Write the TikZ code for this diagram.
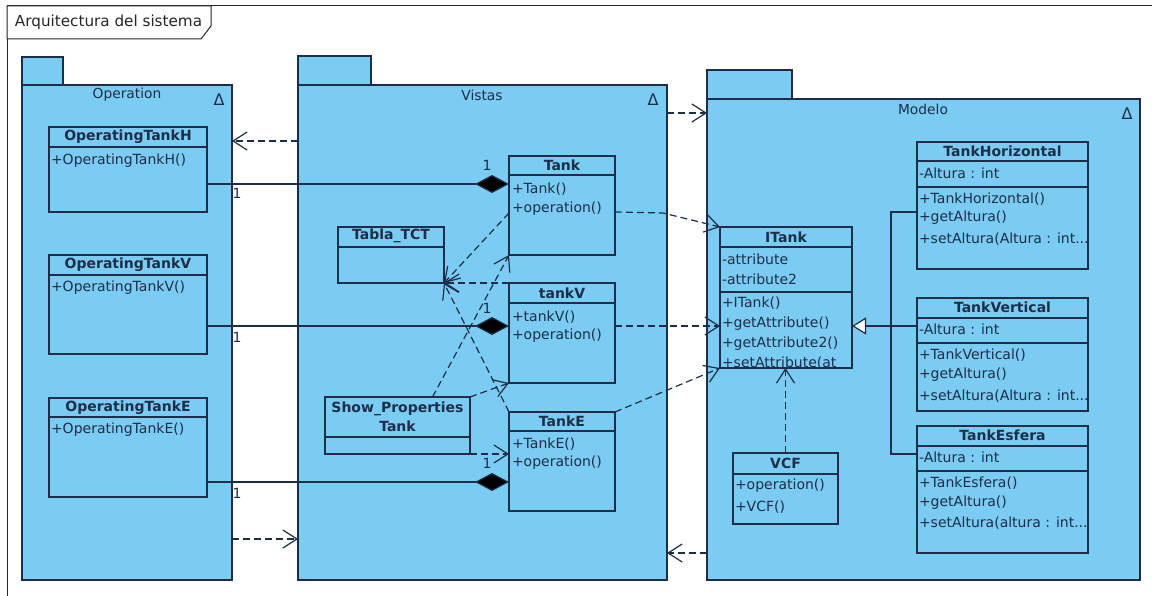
\documentclass[tikz,border=0pt]{standalone}
\usepackage{fontspec}
\setmainfont{DejaVu Sans}
\usetikzlibrary{arrows.meta}
\definecolor{pkgblue}{RGB}{122,204,242}
\definecolor{ink}{RGB}{30,45,72}

% horizontal compartment line inside a class box, #2 pt below its top
\newcommand\umldiv[2]{\draw[edge] ([yshift=-#2pt]#1.north west) -- ([yshift=-#2pt]#1.north east);}

\begin{document}
\begin{tikzpicture}[x=1pt,y=-1pt,
  every node/.style={inner sep=0pt, outer sep=0pt},
  edge/.style={draw=ink, line width=1.2pt},
  frame/.style={draw=black!85, line width=1pt},
  pkg/.style={draw=ink, fill=pkgblue, line width=1.3pt, anchor=north west},
  pkgtab/.style={draw=ink, fill=pkgblue, line width=1.3pt},
  cbox/.style={draw=ink, fill=pkgblue, line width=1.3pt, anchor=north west},
  cname/.style={font=\fontsize{14}{16}\selectfont\bfseries, text=ink, align=center},
  member/.style={font=\fontsize{14}{16}\selectfont, text=ink, anchor=west},
  pname/.style={font=\fontsize{13.8}{15}\selectfont, text=ink},
  delta/.style={font=\fontsize{16}{18}\selectfont, text=ink},
  mult/.style={font=\fontsize{14}{16}\selectfont, text=ink},
  dep/.style={draw=ink, line width=1.2pt, dash pattern=on 7pt off 4pt,
    -{Straight Barb[length=14pt,width=18pt]}},
  comp/.style={draw=ink, line width=1.2pt, -{Diamond[length=34pt,width=18pt,fill=black]}},
  gen/.style={draw=ink, line width=1.2pt, -{Triangle[length=14pt,width=17pt,fill=white]}},
]
\useasboundingbox (0,0) rectangle (1152,596);
\fill[white] (0,0) rectangle (1152,596);

% ---------- outer frame ----------
\draw[frame] (7,600) -- (7,6) -- (1160,6);
\draw[frame, fill=white] (7,6) -- (211,6) -- (211,26) -- (201,39) -- (7,39) -- cycle;
\node[font=\fontsize{15.2}{17}\selectfont, text=black!85, anchor=west] (frametitle) at (15,22) {Arquitectura del sistema};

% ---------- packages ----------
\draw[pkgtab] (22,57) rectangle (63,85);
\node[pkg, minimum width=210pt, minimum height=495pt] (operation) at (22,85) {};
\draw[pkgtab] (298,56) rectangle (371,85);
\node[pkg, minimum width=369pt, minimum height=495pt] (vistas) at (298,85) {};
\draw[pkgtab] (707,70) rectangle (792,99);
\node[pkg, minimum width=433pt, minimum height=481pt] (modelo) at (707,99) {};

\node[pname] (operationname) at (127,95) {Operation};
\node[pname] (vistasname) at (482,95) {Vistas};
\node[pname] (modeloname) at (923,109) {Modelo};
\node[delta] (operationdelta) at (219,100) {Δ};
\node[delta] (vistasdelta) at (653,100) {Δ};
\node[delta] (modelodelta) at (1127,114) {Δ};

% ---------- Operation classes ----------
\node[cbox, minimum width=158pt, minimum height=85pt] (opH) at (49,127) {};
\umldiv{opH}{20}
\node[cname] (opHname) at (128,137) {OperatingTankH};
\node[member] (opHm1) at (51,161) {+OperatingTankH()};

\node[cbox, minimum width=158pt, minimum height=99pt] (opV) at (49,255) {};
\umldiv{opV}{20}
\node[cname] (opVname) at (128,265) {OperatingTankV};
\node[member] (opVm1) at (51,288) {+OperatingTankV()};

\node[cbox, minimum width=158pt, minimum height=99pt] (opE) at (49,398) {};
\umldiv{opE}{19}
\node[cname] (opEname) at (128,408) {OperatingTankE};
\node[member] (opEm1) at (51,430) {+OperatingTankE()};

% ---------- Vistas classes ----------
\node[cbox, minimum width=106pt, minimum height=99pt] (tank) at (509,156) {};
\umldiv{tank}{19}
\node[cname] (tankname) at (562,165) {Tank};
\node[member] (tankm1) at (512,189) {+Tank()};
\node[member] (tankm2) at (512,209) {+operation()};

\node[cbox, minimum width=106pt, minimum height=56pt] (tabla) at (338,227) {};
\umldiv{tabla}{20}
\node[cname] (tablaname) at (391,236) {Tabla\_TCT};

\node[cbox, minimum width=106pt, minimum height=100pt] (tankV) at (509,283) {};
\umldiv{tankV}{20}
\node[cname] (tankVname) at (562,293) {tankV};
\node[member] (tankVm1) at (512,317) {+tankV()};
\node[member] (tankVm2) at (512,336) {+operation()};

\node[cbox, minimum width=106pt, minimum height=99pt] (tankE) at (509,412) {};
\umldiv{tankE}{19}
\node[cname] (tankEname) at (562,421) {TankE};
\node[member] (tankEm1) at (512,444) {+TankE()};
\node[member] (tankEm2) at (512,463) {+operation()};

\node[cbox, minimum width=145pt, minimum height=57pt] (show) at (325,397) {};
\umldiv{show}{40}
\node[cname, font=\fontsize{14}{19}\selectfont\bfseries] (showname) at (397.5,417) {Show\_Properties\\Tank};

% ---------- Modelo classes ----------
\node[cbox, minimum width=132pt, minimum height=141pt] (itank) at (720,227) {};
\umldiv{itank}{20}
\umldiv{itank}{65}
\node[cname] (itankname) at (786,237) {ITank};
\node[member] (itanka1) at (722,259) {-attribute};
\node[member] (itanka2) at (722,279) {-attribute2};
\node[member] (itankm1) at (722,303) {+ITank()};
\node[member] (itankm2) at (722,324) {+getAttribute()};
\node[member] (itankm3) at (722,344) {+getAttribute2()};
\node[member] (itankm4) at (722,363) {+setAttribute(at};
\draw[edge] (itank.south west) -- (itank.south east);

\node[cbox, minimum width=171pt, minimum height=127pt] (tankH) at (917,142) {};
\umldiv{tankH}{19}
\umldiv{tankH}{45}
\node[cname] (tankHname) at (1002.5,151) {TankHorizontal};
\node[member] (tankHa1) at (919,173) {-Altura : int};
\node[member] (tankHm1) at (919,199) {+TankHorizontal()};
\node[member] (tankHm2) at (919,218) {+getAltura()};
\node[member] (tankHm3) at (919,239) {+setAltura(Altura : int...};

\node[cbox, minimum width=171pt, minimum height=113pt] (tankVt) at (917,298) {};
\umldiv{tankVt}{20}
\umldiv{tankVt}{45}
\node[cname] (tankVtname) at (1002.5,307) {TankVertical};
\node[member] (tankVta1) at (919,329) {-Altura : int};
\node[member] (tankVtm1) at (919,355) {+TankVertical()};
\node[member] (tankVtm2) at (919,375) {+getAltura()};
\node[member] (tankVtm3) at (919,396) {+setAltura(Altura : int...};

\node[cbox, minimum width=171pt, minimum height=127pt] (tankEs) at (917,426) {};
\umldiv{tankEs}{20}
\umldiv{tankEs}{45}
\node[cname] (tankEsname) at (1002.5,435) {TankEsfera};
\node[member] (tankEsa1) at (919,457) {-Altura : int};
\node[member] (tankEsm1) at (919,483) {+TankEsfera()};
\node[member] (tankEsm2) at (919,503) {+getAltura()};
\node[member] (tankEsm3) at (919,523) {+setAltura(altura : int...};

\node[cbox, minimum width=105pt, minimum height=71pt] (vcf) at (733,453) {};
\umldiv{vcf}{21}
\node[cname] (vcfname) at (785.5,463) {VCF};
\node[member] (vcfm1) at (735,486) {+operation()};
\node[member] (vcfm2) at (735,507) {+VCF()};

% ---------- package dependencies ----------
\draw[dep] ([yshift=-56pt]vistas.north west) coordinate (pv) -- (pv -| operation.east);
\draw[dep] ([yshift=41pt]operation.south east) coordinate (po) -- (po -| vistas.west);
\draw[dep] ([yshift=-28pt]vistas.north east) coordinate (pm) -- (pm -| modelo.west);
\draw[dep] ([yshift=27pt]modelo.south west) coordinate (pb) -- (pb -| vistas.east);

% ---------- compositions ----------
\draw[comp] ([yshift=-57pt]opH.north east) coordinate (ch) -- (ch -| tank.west);
\draw[comp] ([yshift=-71pt]opV.north east) coordinate (cv) -- (cv -| tankV.west);
\draw[comp] ([yshift=-84pt]opE.north east) coordinate (ce) -- (ce -| tankE.west);
\node[mult] (m1a) at (237,193) {1};
\node[mult] (m1b) at (487,165) {1};
\node[mult] (m2a) at (237,337) {1};
\node[mult] (m2b) at (487,308) {1};
\node[mult] (m3a) at (237,493) {1};
\node[mult] (m3b) at (487,463) {1};

% ---------- dependencies inside Vistas ----------
\draw[dep] ([yshift=-57pt]tank.north west) -- (tabla.south east);
\draw[dep] (tankV.north west) -- (tabla.south east);
\draw[dep] (tankE.north west) -- (tabla.south east);
\draw[dep] ([xshift=35pt]show.north) -- (tank.south west);
\draw[dep] (show.north east) -- (tankV.south west);
\draw[dep] (show.south east) coordinate (se) -- (se -| tankE.west);

% ---------- dependencies towards the interface ----------
\coordinate (bend) at (663,213);
\draw[dep] ([yshift=-56pt]tank.north east) -- (bend) -- (itank.north west);
\draw[dep] ([yshift=-43pt]tankV.north east) coordinate (vi) -- (vi -| itank.west);
\draw[dep] (tankE.north east) -- (itank.south west);
\draw[dep] (vcf.north) -- (vcf.north |- itank.south);

% ---------- generalizations ----------
\coordinate (gtop) at (891,212);
\coordinate (gbot) at (891,454);
\draw[edge] ([yshift=-70pt]tankH.north west) -- (gtop) -- (gbot) -- ([yshift=-28pt]tankEs.north west);
\draw[gen] ([yshift=-28pt]tankVt.north west) coordinate (gv) -- (gv -| itank.east);
\end{tikzpicture}
\end{document}
